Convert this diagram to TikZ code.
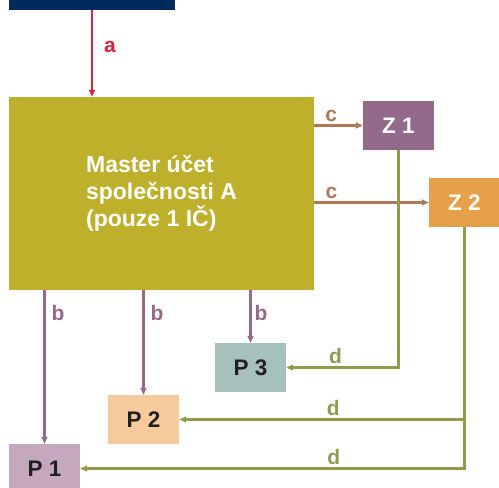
\documentclass[tikz,border=0pt]{standalone}
\usepackage{fontspec}
\setmainfont{Liberation Sans}
\usetikzlibrary{arrows.meta, calc}

\definecolor{navy}{RGB}{0,43,92}
\definecolor{masterc}{RGB}{191,176,44}
\definecolor{zonec}{RGB}{148,106,138}
\definecolor{ztwoc}{RGB}{230,160,74}
\definecolor{pthreec}{RGB}{166,193,188}
\definecolor{ptwoc}{RGB}{245,203,156}
\definecolor{ponec}{RGB}{196,168,190}
\definecolor{arra}{RGB}{224,32,60}
\definecolor{arrb}{RGB}{148,106,138}
\definecolor{arrc}{RGB}{176,120,88}
\definecolor{arrd}{RGB}{147,154,78}
\definecolor{darktext}{RGB}{35,31,32}

\begin{document}
\begin{tikzpicture} [x=1pt, y=-1pt,
  box/.style={minimum width=71pt, minimum height=49pt, inner sep=0pt, font=\bfseries\fontsize{22.5}{24}\selectfont},
  conn/.style={line width=2.4pt, -{Triangle[length=7pt,width=6pt]}},
  lbl/.style={font=\bfseries\fontsize{21}{23}\selectfont, inner sep=3pt}]
\useasboundingbox (0,0) rectangle (499,488);
% boxes
\node (top) [fill=navy, minimum width=166pt, minimum height=50pt, inner sep=0pt] at (92,-15) {};
\node (master) [fill=masterc, text=white, minimum width=305pt, minimum height=193pt, inner sep=0pt, align=left,
  font=\bfseries\fontsize{23}{27}\selectfont] at (161.5,193.5) {Master účet\\společnosti A\\(pouze 1 IČ)};
\node (z1) [box, fill=zonec, text=white] at (398.5,125.5) {Z 1};
\node (z2) [box, fill=ztwoc, text=white] at (464.5,202.5) {Z 2};
\node (p3) [box, fill=pthreec, text=darktext] at (250.5,367.5) {P 3};
\node (p2) [box, fill=ptwoc, text=darktext] at (143.5,419.5) {P 2};
\node (p1) [box, fill=ponec, text=darktext] at (44.5,468.5) {P 1};
% a
\draw [conn, arra] (top.south) -- (top.south |- master.north) node [lbl, pos=0.43, right=8pt] {a};
% b
\draw [conn, arrb] (master.south -| p1) -- (p1) node [lbl, pos=0.15, right=3pt] {b};
\draw [conn, arrb] (master.south -| p2) -- (p2) node [lbl, pos=0.22, right=3pt] {b};
\draw [conn, arrb] (master.south -| p3) -- (p3) node [lbl, pos=0.43, right=0pt] {b};
% c
\draw [conn, arrc] (master.east |- z1) -- (z1) node [lbl, pos=0.35, above] {c};
\draw [conn, arrc] (master.east |- z2) -- (z2) node [lbl, pos=0.15, above] {c};
% d
\draw [conn, arrd] (z1.south) |- (p3) node [lbl, pos=0.78, above] {d};
\draw [conn, arrd] (z2.south |- p2) -- (p2) node [lbl, pos=0.46, above] {d};
\draw [conn, arrd] (z2.south) |- (p1.east) node [lbl, pos=0.67, above] {d};
\end{tikzpicture}
\end{document}
